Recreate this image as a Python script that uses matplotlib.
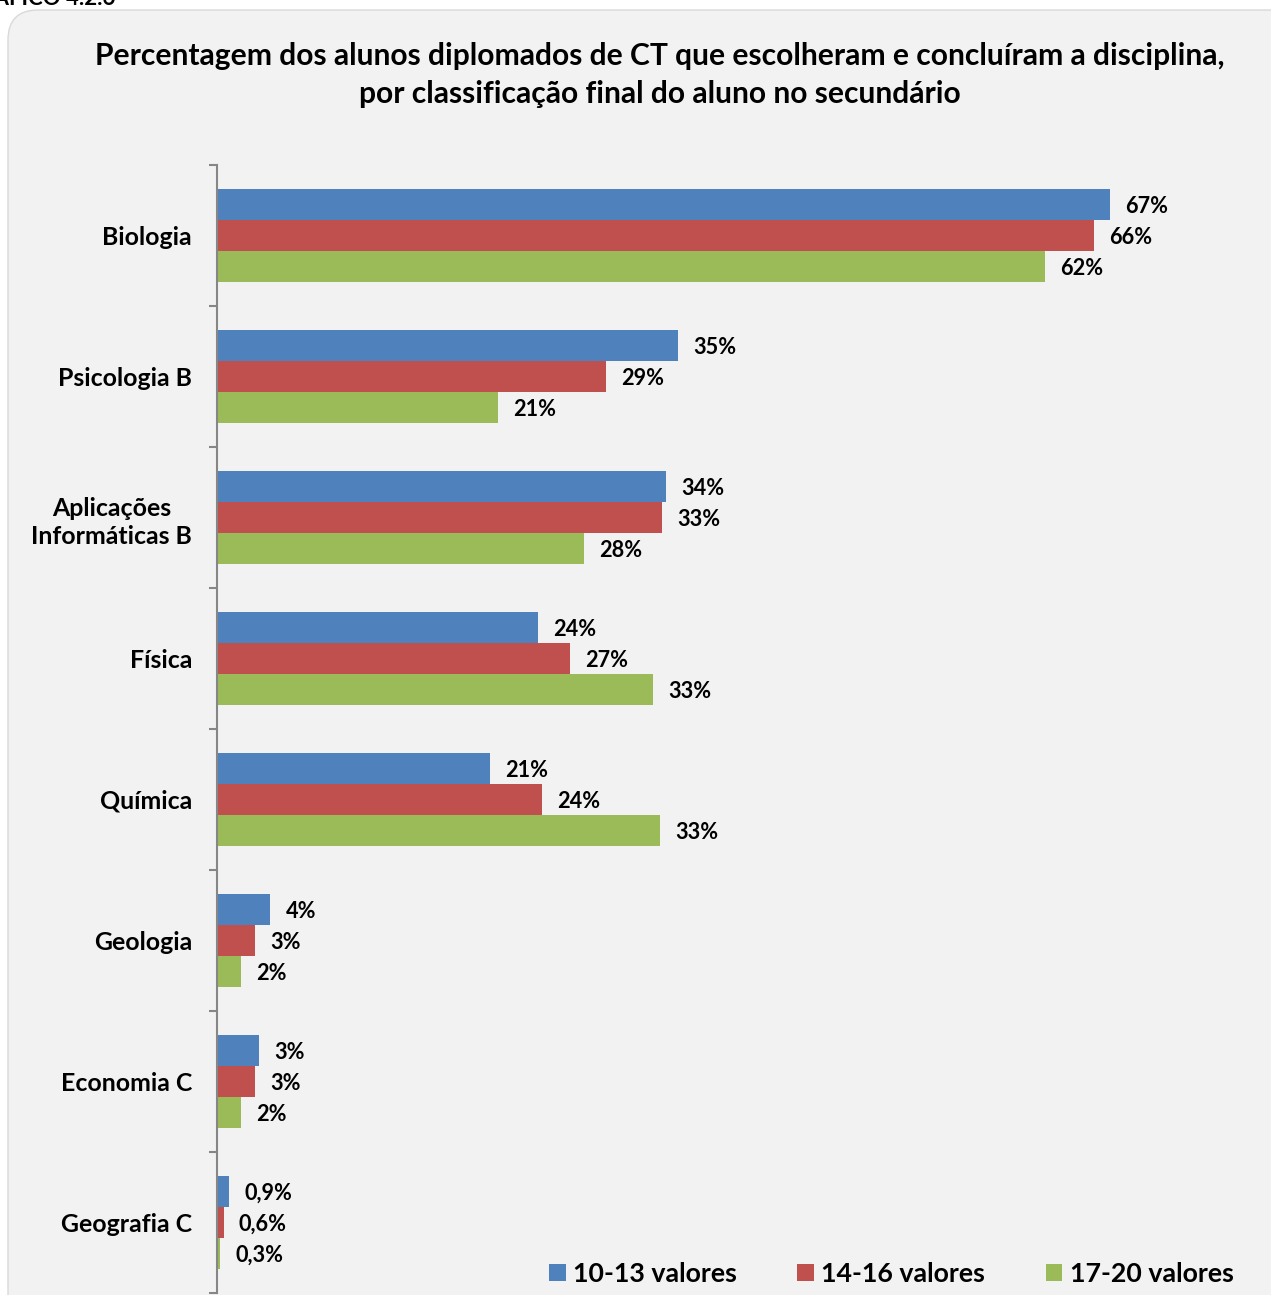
import matplotlib
matplotlib.use("Agg")
import matplotlib.pyplot as plt
import matplotlib.transforms as mtransforms
from matplotlib.patches import FancyBboxPatch, Patch
import numpy as np

plt.rcParams['font.family'] = ['Lato', 'DejaVu Sans']

categories = ["Biologia", "Psicologia B", "Aplicações\nInformáticas B", "Física",
              "Química", "Geologia", "Economia C", "Geografia C"]
series_names = ["10-13 valores", "14-16 valores", "17-20 valores"]
vals_10_13 = [67.0, 34.6, 33.7, 24.1, 20.5, 4.0, 3.15, 0.9]
vals_14_16 = [65.8, 29.2, 33.4, 26.5, 24.4, 2.85, 2.85, 0.5]
vals_17_20 = [62.1, 21.1, 27.5, 32.7, 33.2, 1.8, 1.8, 0.25]
labels_10_13 = ["67%", "35%", "34%", "24%", "21%", "4%", "3%", "0,9%"]
labels_14_16 = ["66%", "29%", "33%", "27%", "24%", "3%", "3%", "0,6%"]
labels_17_20 = ["62%", "21%", "28%", "33%", "33%", "2%", "2%", "0,3%"]
colors = ["#4f81bd", "#c0504d", "#9bbb59"]
title = ("Percentagem dos alunos diplomados de CT que escolheram e concluíram a disciplina,\n"
         "por classificação final do aluno no secundário")

W, H = 1271, 1295
fig = plt.figure(figsize=(W / 100, H / 100), dpi=100)
fig.patch.set_facecolor("white")
px = mtransforms.Affine2D().scale(1 / W, -1 / H).translate(0, 1) + fig.transFigure

# background panel
panel = FancyBboxPatch((8, 10), 1300, 1320, boxstyle="round,pad=0,rounding_size=30",
                       transform=px, facecolor="#f2f2f2", edgecolor="#d9d9d9", lw=1.0,
                       zorder=-5)
fig.patches.append(panel)

fig.text(115, -2, "GRÁFICO 4.2.6", transform=px, ha="right", va="center",
         fontsize=16, fontweight="bold", color="black")

fig.text(660, 75, title, transform=px, ha="center", va="center", fontsize=21.6,
         fontweight="bold", linespacing=1.45)

ax_left, ax_top, ax_bottom = 217, 165, 1293
ax = fig.add_axes([ax_left / W, (H - ax_bottom) / H, 1000 / W, (ax_bottom - ax_top) / H])
ax.set_zorder(1)
ax.set_facecolor("none")
ax.set_xlim(0, 75)
n = len(categories)
ax.set_ylim(n - 0.5, -0.5)

y = np.arange(n)
bh = 0.22
all_vals = [vals_10_13, vals_14_16, vals_17_20]
all_labels = [labels_10_13, labels_14_16, labels_17_20]
for i, (vals, labs, col, name) in enumerate(zip(all_vals, all_labels, colors, series_names)):
    yy = y + (i - 1) * bh
    ax.barh(yy, vals, height=bh, color=col, edgecolor="none", label=name, zorder=2)
    for v, yv, lab in zip(vals, yy, labs):
        ax.annotate(lab, (v, yv), xytext=(11, -1.5), textcoords="offset points",
                    ha="left", va="center", fontsize=15.6, fontweight="bold")

for s in ["top", "right", "bottom"]:
    ax.spines[s].set_visible(False)
ax.spines["left"].set_color("#868686")
ax.spines["left"].set_linewidth(1.5)
ax.set_xticks([])
ax.set_yticks(y)
ax.set_yticklabels(categories, fontsize=17.9, fontweight="bold")
for t in ax.get_yticklabels():
    t.set_multialignment("center")
    t.set_linespacing(1.3)
ax.tick_params(axis="y", which="major", length=0, pad=18)
ax.set_yticks(np.arange(n + 1) - 0.5, minor=True)
ax.tick_params(axis="y", which="minor", length=6, width=1.5, color="#868686")

handles = [Patch(facecolor=c, edgecolor="none") for c in colors]
leg = fig.legend(handles, series_names, loc="center left",
                 bbox_to_anchor=(549 / W, (H - 1274) / H), ncol=3, frameon=False,
                 prop={"weight": "bold", "size": 19.3},
                 handlelength=0.62, handleheight=0.62, handletextpad=0.28,
                 columnspacing=2.25, borderaxespad=0, borderpad=0)
leg.set_zorder(3)

fig.savefig("out.png", dpi=100, facecolor="white")
